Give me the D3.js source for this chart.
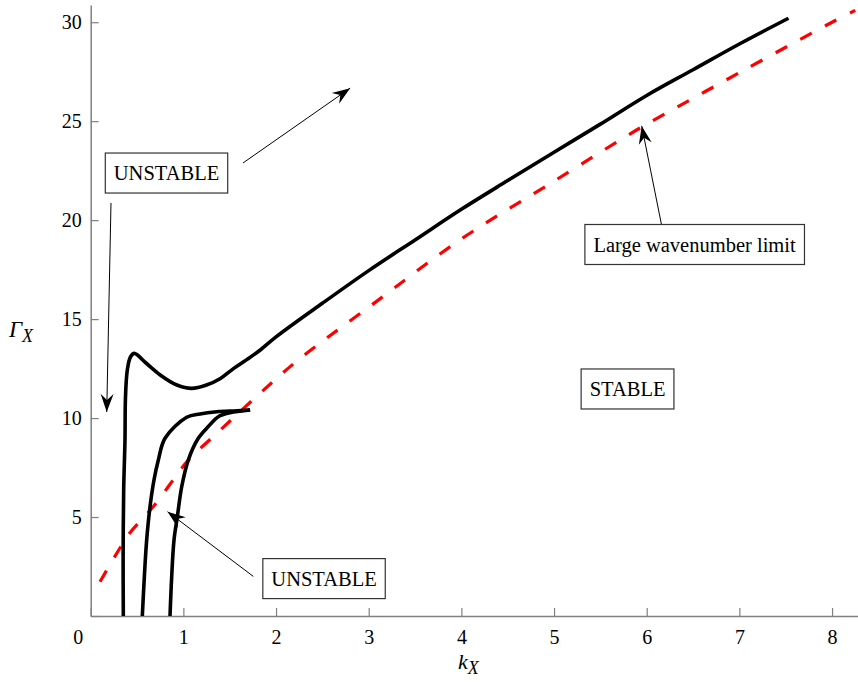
<!DOCTYPE html>
<html>
<head>
<meta charset="utf-8">
<script src="https://cdn.jsdelivr.net/npm/d3@7"></script>
<style>
  body { margin: 0; background: #fff; }
  text { font-family: "Liberation Serif", "Times New Roman", serif; }
</style>
</head>
<body>
<script>
// neutral stability curves, Gamma_X against k_X
var outerK = [0.352, 0.350, 0.356, 0.370, 0.375, 0.395, 0.43, 0.47, 0.60, 0.75, 0.93, 1.09, 1.25, 1.40, 1.54, 1.68, 1.83, 2.0, 2.5, 3.0, 3.5, 4.0, 4.5, 5.0, 5.5, 6.0, 6.5, 7.0, 7.53],
    outerG = [0, 3.0, 6.4, 8.9, 11.0, 12.43, 13.1, 13.27, 12.77, 12.18, 11.67, 11.5, 11.67, 12.0, 12.5, 12.94, 13.44, 14.1, 15.8, 17.45, 19.0, 20.55, 22.0, 23.43, 24.85, 26.3, 27.6, 28.9, 30.2];

var middleK = [0.557, 0.579, 0.604, 0.640, 0.683, 0.730, 0.802, 1.036, 1.18, 1.36, 1.576, 1.72],
    middleG = [0, 1.99, 3.84, 5.52, 6.87, 7.88, 8.98, 10.04, 10.21, 10.32, 10.37, 10.41];

var innerK = [0.856, 0.874, 0.899, 0.935, 0.982, 1.053, 1.161, 1.269, 1.377, 1.503, 1.72],
    innerG = [0, 1.99, 3.84, 5.02, 6.53, 7.88, 8.98, 9.57, 10.07, 10.27, 10.41];

// large wavenumber limit (dashed)
var limitK = [0.10, 0.26, 0.42, 0.66, 0.89, 1.04, 1.40, 1.78, 2.24, 3.0, 4.0, 5.0, 5.8, 6.0, 7.0, 8.0, 8.25],
    limitG = [1.73, 3.0, 4.18, 5.44, 6.87, 7.8, 9.4, 11.05, 12.94, 15.6, 19.05, 21.97, 24.3, 24.85, 27.45, 30.0, 30.6];

var xTicks = [0, 1, 2, 3, 4, 5, 6, 7, 8],
    yTicks = [0, 5, 10, 15, 20, 25, 30];

// annotations: label, box centre [k, G]
var boxLabels  = ["UNSTABLE", "Large wavenumber limit", "STABLE", "UNSTABLE"],
    boxCentres = [[0.818, 22.38], [6.516, 18.77], [5.793, 11.47], [2.518, 1.89]];

// arrows: from [k, G] to [k, G]
var arrowFrom = [[1.644, 22.89], [0.219, 20.87], [1.755, 2.0], [6.160, 19.76]],
    arrowTo   = [[2.80, 26.67], [0.173, 10.31], [0.829, 5.27], [5.946, 24.76]];

(function() {
  var width = 858,
      height = 683;

  var svg = d3.select("body").append("svg")
      .attr("width", width)
      .attr("height", height);

  var x = d3.scaleLinear().domain([0, 8.28]).range([90.7, 858]),
      y = d3.scaleLinear().domain([0, 30.87]).range([616, 5]);

  var axisColor = "#808080";

  // x axis
  var gx = svg.append("g")
      .attr("transform", "translate(0," + y(0) + ")")
      .call(d3.axisBottom(x).tickValues(xTicks).tickSizeInner(-8).tickSizeOuter(0).tickPadding(14));
  // y axis
  var gy = svg.append("g")
      .attr("transform", "translate(" + x(0) + ",0)")
      .call(d3.axisLeft(y).tickValues(yTicks).tickSizeInner(-8).tickSizeOuter(0).tickPadding(9)
        .tickFormat(function(d) { return d === 0 ? "" : d; }));

  [gx, gy].forEach(function(g) {
    g.select(".domain").attr("stroke", axisColor).attr("stroke-width", 1.5);
    g.selectAll(".tick line").attr("stroke", axisColor).attr("stroke-width", 1.2);
    g.selectAll(".tick text")
      .attr("fill", "#000")
      .style("font-size", "20px")
      .style("font-family", "'Liberation Serif', 'Times New Roman', serif");
  });
  // the 0 label sits left of the corner
  gx.selectAll(".tick text").filter(function(d) { return d === 0; }).attr("dx", -13);

  function pts(ks, gs) {
    return ks.map(function(k, i) { return [k, gs[i]]; });
  }

  var line = d3.line()
      .x(function(d) { return x(d[0]); })
      .y(function(d) { return y(d[1]); })
      .curve(d3.curveCatmullRom.alpha(0.5));

  svg.append("path")
      .datum(pts(limitK, limitG))
      .attr("d", line)
      .attr("fill", "none")
      .attr("stroke", "#ff0000")
      .attr("stroke-width", 3.2)
      .attr("stroke-dasharray", "13,15");

  [pts(outerK, outerG), pts(middleK, middleG), pts(innerK, innerG)].forEach(function(p) {
    svg.append("path")
        .datum(p)
        .attr("d", line)
        .attr("fill", "none")
        .attr("stroke", "#000")
        .attr("stroke-width", 3.6)
        .attr("stroke-linejoin", "round");
  });

  // arrow heads
  svg.append("defs").append("marker")
      .attr("id", "head")
      .attr("viewBox", "-19 -7 20 14")
      .attr("refX", 0)
      .attr("refY", 0)
      .attr("markerWidth", 20)
      .attr("markerHeight", 14)
      .attr("markerUnits", "userSpaceOnUse")
      .attr("orient", "auto")
    .append("path")
      .attr("d", "M0,0 L-18,-6.5 L-12,0 L-18,6.5 Z")
      .attr("fill", "#000");

  arrowFrom.forEach(function(f, i) {
    var t = arrowTo[i];
    svg.append("line")
        .attr("x1", x(f[0])).attr("y1", y(f[1]))
        .attr("x2", x(t[0])).attr("y2", y(t[1]))
        .attr("stroke", "#000")
        .attr("stroke-width", 1)
        .attr("marker-end", "url(#head)");
  });

  // text boxes
  boxLabels.forEach(function(label, i) {
    var c = boxCentres[i];
    var g = svg.append("g");
    var rect = g.append("rect");
    var txt = g.append("text")
        .attr("x", x(c[0]))
        .attr("y", y(c[1]))
        .attr("dy", "0.35em")
        .attr("text-anchor", "middle")
        .style("font-size", "20.5px")
        .text(label);
    var bb = txt.node().getBBox();
    rect.attr("x", bb.x - 8.5)
        .attr("y", y(c[1]) - 20)
        .attr("width", bb.width + 17)
        .attr("height", 40)
        .attr("fill", "#fff")
        .attr("stroke", "#333")
        .attr("stroke-width", 1.2);
  });

  // axis titles
  var yl = svg.append("text")
      .attr("x", 9)
      .attr("y", 337)
      .style("font-size", "23px")
      .style("font-style", "italic");
  yl.append("tspan").text("\u0393");
  yl.append("tspan").attr("dy", "0.3em").style("font-size", "18px").text("X");

  var xl = svg.append("text")
      .attr("x", 458)
      .attr("y", 669)
      .style("font-size", "22px")
      .style("font-style", "italic");
  xl.append("tspan").text("k");
  xl.append("tspan").attr("dy", "0.3em").style("font-size", "18px").text("X");
})();
</script>
</body>
</html>
